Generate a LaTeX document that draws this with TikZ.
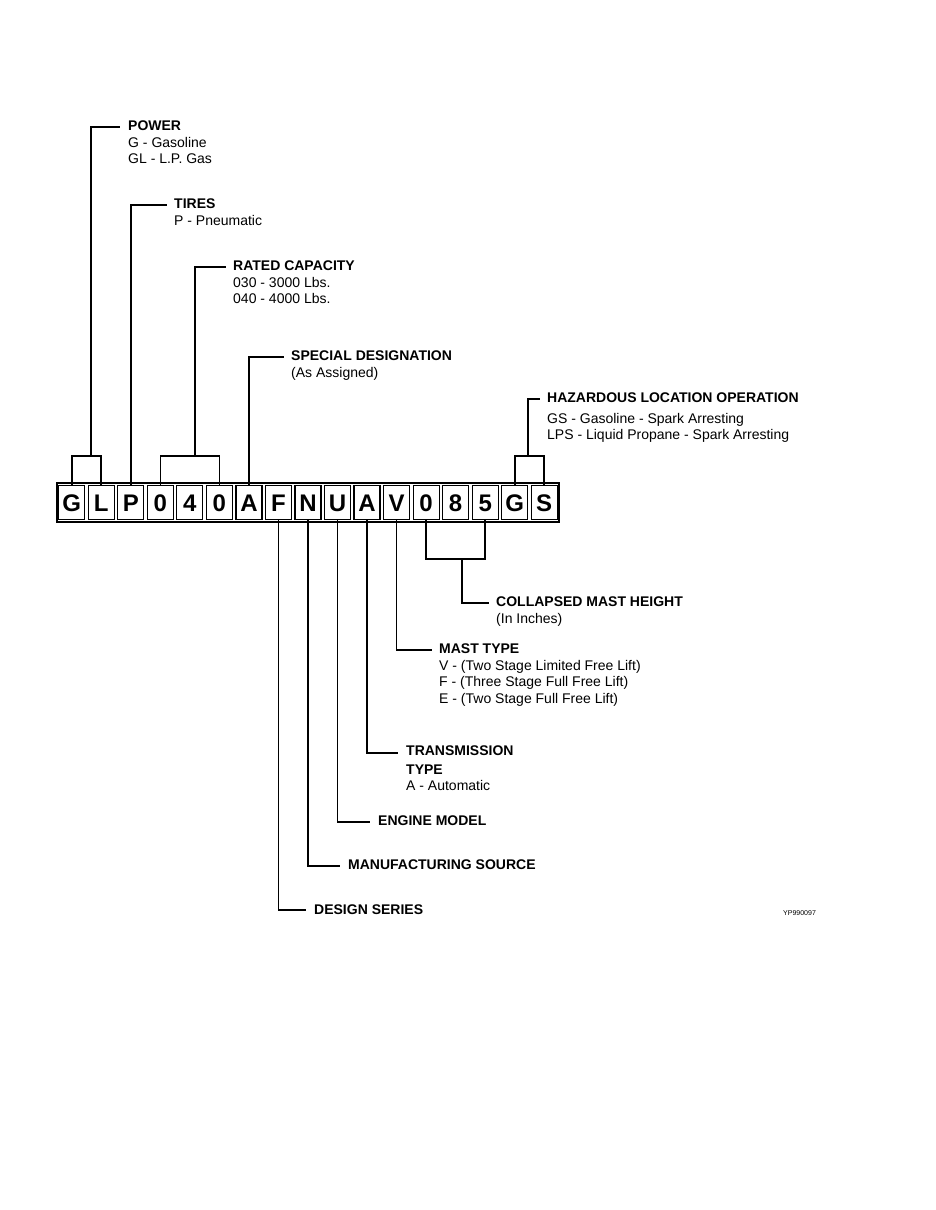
\documentclass[tikz,border=0pt]{standalone}
\usepackage{fontspec}
\setmainfont{Liberation Sans}
\usetikzlibrary{positioning}
\tikzset{
  cell/.style = {draw, line width=1.2pt, minimum width=26pt, minimum height=34pt, inner sep=0pt, text height=17pt, text depth=0pt, font=\bfseries\fontsize{24}{24}\selectfont},
  lead/.style = {line width=1.6pt},
  lbl/.style  = {anchor=north west, align=left, inner sep=0pt, font=\fontsize{14}{16.5}\selectfont},
}
\newcommand{\hd}[1]{\textbf{#1}}
\begin{document}
\begin{tikzpicture}[x=1pt, y=-1pt]
\useasboundingbox (0,0) rectangle (935,1210);
\draw [line width=2.4pt] (57,483) rectangle (559,522);
\foreach \c [count=\i] in {G,L,P,0,4,0,A,F,N,U,A,V,0,8,5,G,S}
  \node [cell] (c\i) at ({57+29.53*(\i-0.5)},502.5) {\c};
% above the row
\draw [lead] (c1.north) -- ++(0,-29) coordinate (p1) -| (c2.north);
\draw [lead] (p1 -| 91,0) -- (91,127) -- (120,127);
\node [lbl] (power) at (128,121) {\hd{POWER}\\G - Gasoline\\GL - L.P. Gas};
\draw [lead] (c3.north) -- (c3.north |- 0,205) -- (167,205);
\node [lbl] (tires) at (174,199) {\hd{TIRES}\\P - Pneumatic};
\draw [lead] (c4.north) -- ++(0,-29) coordinate (p2) -| (c6.north);
\draw [lead] (p2 -| 195,0) -- (195,267) -- (226,267);
\node [lbl] (rated) at (233,261) {\hd{RATED CAPACITY}\\030 - 3000 Lbs.\\040 - 4000 Lbs.};
\draw [lead] (c7.north) -- (c7.north |- 0,357) -- (284,357);
\node [lbl] (special) at (291,351) {\hd{SPECIAL DESIGNATION}\\(As Assigned)};
\draw [lead] (c16.north) -- ++(0,-29) coordinate (p3) -| (c17.north);
\draw [lead] (p3 -| 528,0) -- (528,399) -- (540,399);
\node [lbl] (hazard) at (547,393) {\hd{HAZARDOUS LOCATION OPERATION}\\[4pt]GS - Gasoline - Spark Arresting\\LPS - Liquid Propane - Spark Arresting};
% below the row
\draw [lead] (c13.south) -- ++(0,39) coordinate (p4) -| (c15.south);
\draw [lead] (p4 -| 462,0) -- (462,603) -- (489,603);
\node [lbl] (height) at (496,597) {\hd{COLLAPSED MAST HEIGHT}\\(In Inches)};
\draw [lead] (c12.south) -- (c12.south |- 0,650) -- (432,650);
\node [lbl] (mast) at (439,644) {\hd{MAST TYPE}\\V - (Two Stage Limited Free Lift)\\F - (Three Stage Full Free Lift)\\E - (Two Stage Full Free Lift)};
\draw [lead] (c11.south) -- (c11.south |- 0,753) -- (398,753);
\node [lbl] (trans) at (406,746) {\hd{TRANSMISSION}\\[2pt]\hd{TYPE}\\A - Automatic};
\draw [lead] (c10.south) -- (c10.south |- 0,822) -- (370,822);
\node [lbl] (engine) at (378,816) {\hd{ENGINE MODEL}};
\draw [lead] (c9.south) -- (c9.south |- 0,866) -- (340,866);
\node [lbl] (source) at (348,860) {\hd{MANUFACTURING SOURCE}};
\draw [lead] (c8.south) -- (c8.south |- 0,910) -- (306,910);
\node [lbl] (design) at (314,905) {\hd{DESIGN SERIES}};
\node [lbl, font=\fontsize{7}{8}\selectfont] (code) at (783,910) {YP990097};
\end{tikzpicture}
\end{document}
